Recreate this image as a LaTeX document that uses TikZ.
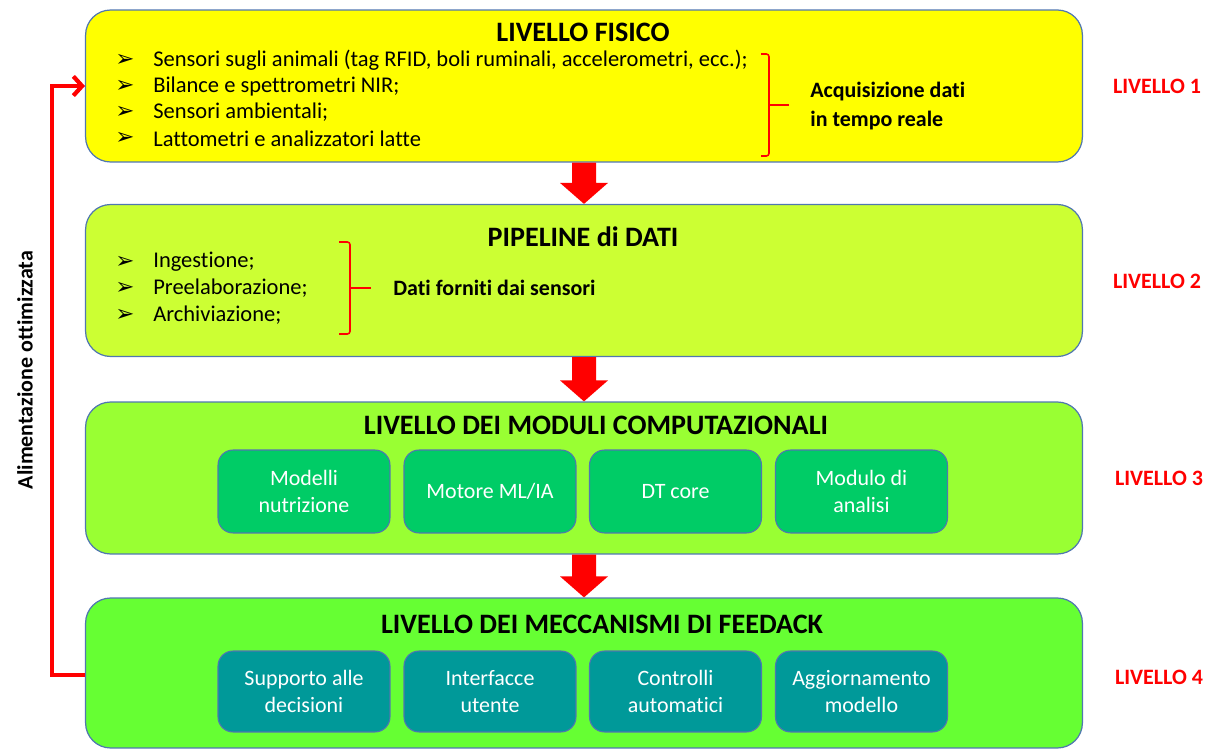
\documentclass[tikz,border=0pt]{standalone}
\usepackage{fontspec}
\setmainfont{Carlito}[Ligatures=CommonOff]
\newfontfamily\symfont{DejaVu Sans}
\usepackage{xcolor}
\usepackage{tikz}
\usetikzlibrary{calc,arrows.meta}

\definecolor{bordo}{HTML}{5077B0}
\definecolor{giallo}{HTML}{FFFF00}
\definecolor{lime1}{HTML}{CCFF33}
\definecolor{lime2}{HTML}{99FF33}
\definecolor{lime3}{HTML}{66FF33}
\definecolor{verdemod}{HTML}{00CC66}
\definecolor{tealmod}{HTML}{009999}
\definecolor{rosso}{HTML}{FF0000}

\tikzset{
	livello/.style={draw=bordo, line width=0.7pt, rounded corners=0.5cm,
		minimum width=19.94cm, minimum height=3.04cm, inner sep=0pt},
	modulo/.style={draw=bordo, line width=0.6pt, rounded corners=0.3cm,
		minimum width=3.44cm, minimum height=1.66cm, inner sep=0pt,
		text=white, align=center, font=\fontsize{12.5}{15}\selectfont},
	titolo/.style={font=\fontsize{16}{19}\selectfont\bfseries},
	voce/.style={anchor=west, font=\fontsize{12.8}{15}\selectfont, inner sep=0pt},
	punto/.style={font=\symfont\fontsize{13}{15}\selectfont, inner sep=0pt},
	etichetta/.style={text=rosso, font=\fontsize{12.5}{15}\selectfont\bfseries},
	nota/.style={anchor=west, align=left, font=\fontsize{12.5}{15}\selectfont\bfseries, inner sep=0pt},
}

% freccia rossa piena tra due livelli
\newcommand{\freccia}[2]{%
	\fill[rosso] ($(#1.south)+(-12,0)$) -- ($(#1.south)+(12,0)$)
		-- ($(#2.north)+(12,-21)$) -- ($(#2.north)+(24,-21)$) -- (#2.north)
		-- ($(#2.north)+(-24,-21)$) -- ($(#2.north)+(-12,-21)$) -- cycle;}

\begin{document}
\begin{tikzpicture}[x=0.02cm, y=-0.02cm]
	\useasboundingbox (0,0) rectangle (1208,749);

	% livelli
	\node[livello, fill=giallo] (L1) at (584,86) {};
	\node[livello, fill=lime1] (L2) at (584,280.5) {};
	\node[livello, fill=lime2] (L3) at (584,478) {};
	\node[livello, fill=lime3, minimum height=3cm] (L4) at (584,673) {};

	\node[titolo] (T1) at (583,32) {LIVELLO FISICO};
	\node[titolo] (T2) at (583,237) {PIPELINE di DATI};
	\node[titolo] (T3) at (596,425) {LIVELLO DEI MODULI COMPUTAZIONALI};
	\node[titolo] (T4) at (602,624) {LIVELLO DEI MECCANISMI DI FEEDACK};

	% livello 1
	\foreach \testo [count=\i] in {{Sensori sugli animali (tag RFID, boli ruminali, accelerometri, ecc.);},
		{Bilance e spettrometri NIR;}, {Sensori ambientali;}, {Lattometri e analizzatori latte}} {
		\node[punto] (p1-\i) at (125,{60+(\i-1)*26.3}) {➢};
		\node[voce] (v1-\i) at (153,{60+(\i-1)*26.3}) {\testo};
	}
	\draw[rosso, line width=0.9pt, rounded corners=1.5pt] (761,54) -- (769,54) -- (769,156) -- (761,156);
	\draw[rosso, line width=0.9pt] (769,105) -- (789,105);
	\node[nota] (A1) at (810,106) {Acquisizione dati\\[1pt]in tempo reale};

	% livello 2
	\foreach \testo [count=\i] in {Ingestione;, Preelaborazione;, Archiviazione;} {
		\node[punto] (p2-\i) at (125,{262+(\i-1)*26.5}) {➢};
		\node[voce] (v2-\i) at (153,{262+(\i-1)*26.5}) {\testo};
	}
	\draw[rosso, line width=0.9pt, rounded corners=1.5pt] (339,242) -- (350,242) -- (350,334) -- (339,334);
	\draw[rosso, line width=0.9pt] (350,288) -- (371,288);
	\node[nota] (A2) at (393,288) {Dati forniti dai sensori};

	% moduli computazionali
	\node[modulo, fill=verdemod] (M1) at (304,491.5) {Modelli\\nutrizione};
	\node[modulo, fill=verdemod] (M2) at (490,491.5) {Motore ML/IA};
	\node[modulo, fill=verdemod] (M3) at (675.5,491.5) {DT core};
	\node[modulo, fill=verdemod] (M4) at (861.5,491.5) {Modulo di\\analisi};

	% meccanismi di feedback
	\node[modulo, fill=tealmod, minimum height=1.62cm] (F1) at (304,691.5) {Supporto alle\\decisioni};
	\node[modulo, fill=tealmod, minimum height=1.62cm] (F2) at (490,691.5) {Interfacce\\utente};
	\node[modulo, fill=tealmod, minimum height=1.62cm] (F3) at (675.5,691.5) {Controlli\\automatici};
	\node[modulo, fill=tealmod, minimum height=1.62cm] (F4) at (861.5,691.5) {Aggiornamento\\modello};

	% frecce tra livelli
	\freccia{L1}{L2}
	\freccia{L2}{L3}
	\freccia{L3}{L4}

	% retroazione
	\coordinate (R1) at (52,675);
	\draw[rosso, line width=2.4pt, -{Straight Barb[length=5pt, width=11pt]}]
		(L4.west |- R1) -- (R1) |- (L1.west);
	\node[rotate=90, font=\fontsize{12.5}{15}\selectfont\bfseries] (AL) at (25,370) {Alimentazione ottimizzata};

	% etichette livelli
	\node[etichetta] (E1) at (1157,86) {LIVELLO 1};
	\node[etichetta] (E2) at (1157,281) {LIVELLO 2};
	\node[etichetta] (E3) at (1159,478) {LIVELLO 3};
	\node[etichetta] (E4) at (1159,677) {LIVELLO 4};
\end{tikzpicture}
\end{document}
